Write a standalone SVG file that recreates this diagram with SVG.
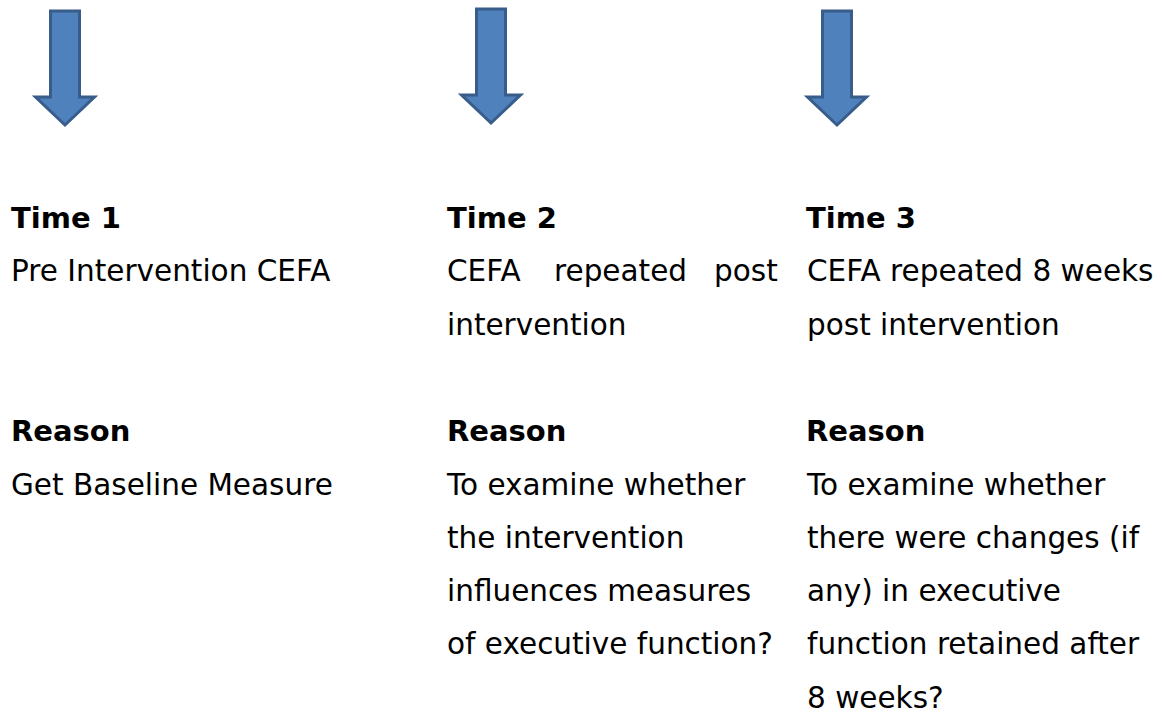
<svg xmlns="http://www.w3.org/2000/svg" width="1162" height="713" viewBox="0 0 1162 713">
  <defs>
    <style>
      .arrow { fill: #4f81bd; stroke: #385d8a; stroke-width: 3; stroke-linejoin: miter; }
      .t { font-family: "DejaVu Sans", Verdana, sans-serif; font-size: 29.5px; fill: #000; }
      .b { font-weight: bold; font-size: 29px; }
    </style>
    <!-- down arrow, centred on x=0, tip at y=0 -->
    <path id="down" class="arrow" d="M -14.5 -116 L 14.5 -116 L 14.5 -30 L 29.5 -30 L 0 -2 L -29.5 -30 L -14.5 -30 Z"/>
  </defs>
  <rect width="1162" height="713" fill="#fff"/>

  <g id="connectors">
    <use href="#down" x="65" y="127"/>
    <use href="#down" x="491" y="125"/>
    <use href="#down" x="837" y="127"/>
  </g>

  <g id="time1">
    <text class="t b" x="11" y="228">Time 1</text>
    <text class="t" x="11" y="281.3">Pre Intervention CEFA</text>
  </g>
  <g id="time2">
    <text class="t b" x="447" y="228">Time 2</text>
    <text class="t" y="281.3"><tspan x="447">CEFA</tspan><tspan x="554">repeated</tspan><tspan x="714">post</tspan></text>
    <text class="t" x="447" y="334.6">intervention</text>
  </g>
  <g id="time3">
    <text class="t b" x="806" y="228">Time 3</text>
    <text class="t" x="807" y="281.3">CEFA repeated 8 weeks</text>
    <text class="t" x="807" y="334.6">post intervention</text>
  </g>

  <g id="reason1">
    <text class="t b" x="11" y="441.2">Reason</text>
    <text class="t" x="11" y="494.5">Get Baseline Measure</text>
  </g>
  <g id="reason2">
    <text class="t b" x="447" y="441.2">Reason</text>
    <text class="t" x="447" y="494.5">To examine whether</text>
    <text class="t" x="447" y="547.8">the intervention</text>
    <text class="t" x="447" y="601.1">influences measures</text>
    <text class="t" x="447" y="654.4">of executive function?</text>
  </g>
  <g id="reason3">
    <text class="t b" x="806" y="441.2">Reason</text>
    <text class="t" x="807" y="494.5">To examine whether</text>
    <text class="t" x="807" y="547.8">there were changes (if</text>
    <text class="t" x="807" y="601.1">any) in executive</text>
    <text class="t" x="807" y="654.4">function retained after</text>
    <text class="t" x="807" y="707.7">8 weeks?</text>
  </g>
</svg>
